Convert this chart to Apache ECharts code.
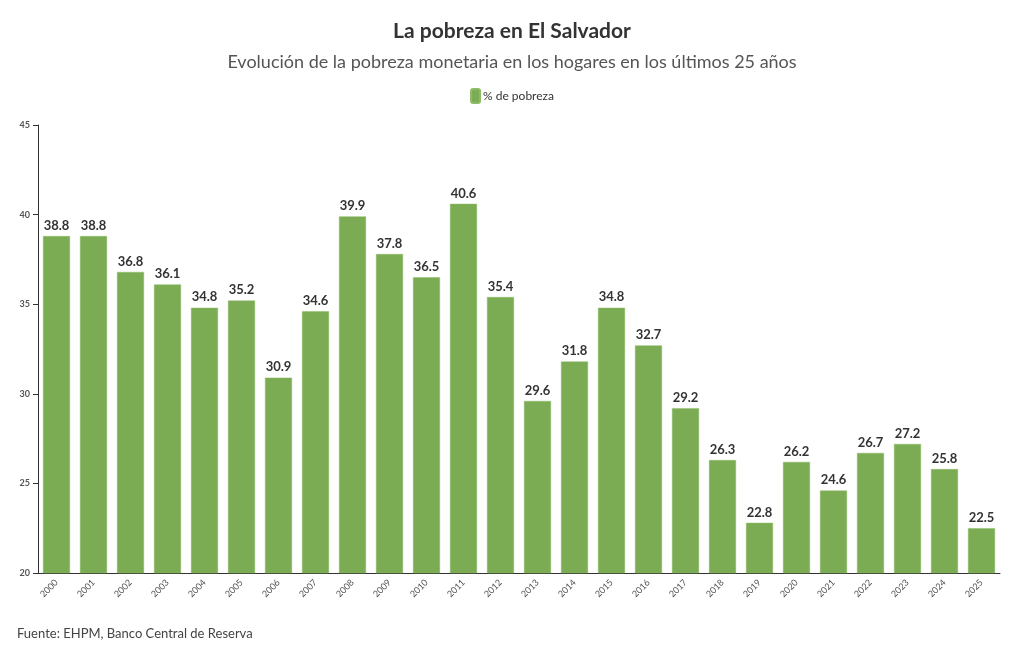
<html>
<head>
    <meta charset='utf-8'/>
    <title>La pobreza en El Salvador</title>
    <style>
        body {
            margin: 0;
            padding: 0;
            background: #fff;
        }

        #chart {
            width: 1024px;
            height: 657px;
        }
    </style>
</head>
<body>
<div id='chart'></div>
<script src="https://cdn.jsdelivr.net/npm/echarts@6/dist/echarts.min.js"></script>
<script type="text/javascript">
    var years = ['2000', '2001', '2002', '2003', '2004', '2005', '2006', '2007', '2008', '2009',
        '2010', '2011', '2012', '2013', '2014', '2015', '2016', '2017', '2018', '2019',
        '2020', '2021', '2022', '2023', '2024', '2025'];
    var pobreza = [38.8, 38.8, 36.8, 36.1, 34.8, 35.2, 30.9, 34.6, 39.9, 37.8,
        36.5, 40.6, 35.4, 29.6, 31.8, 34.8, 32.7, 29.2, 26.3, 22.8,
        26.2, 24.6, 26.7, 27.2, 25.8, 22.5];
    var yTicks = [20, 25, 30, 35, 40, 45];

    var font = 'Lato, "Noto Sans", sans-serif';
    var chart = echarts.init(document.getElementById('chart'));

    var option = {
        animation: false,
        textStyle: {fontFamily: font},
        title: [{
            text: 'La pobreza en El Salvador',
            left: 'center',
            top: 16,
            textStyle: {fontSize: 21, fontWeight: 'bold', color: '#333', fontFamily: font}
        }, {
            text: 'Evolución de la pobreza monetaria en los hogares en los últimos 25 años',
            left: 'center',
            top: 48,
            textStyle: {fontSize: 18, fontWeight: 'normal', color: '#555', fontFamily: font}
        }, {
            text: 'Fuente: EHPM, Banco Central de Reserva',
            left: 12,
            top: 622,
            textStyle: {fontSize: 13, fontWeight: 'normal', color: '#444', fontFamily: font}
        }],
        legend: {
            top: 83,
            left: 'center',
            itemWidth: 9,
            itemHeight: 14,
            itemGap: 4,
            data: ['% de pobreza'],
            textStyle: {fontSize: 12, color: '#333', padding: [0, 0, 0, -2]}
        },
        grid: {
            left: 38,
            right: 24,
            top: 125,
            bottom: 84
        },
        xAxis: {
            type: 'category',
            data: years,
            axisLine: {lineStyle: {color: '#333'}},
            axisTick: {alignWithLabel: true, length: 5, lineStyle: {color: '#333'}},
            axisLabel: {rotate: 45, fontSize: 9, color: '#555', margin: 8}
        },
        yAxis: {
            type: 'value',
            min: yTicks[0],
            max: yTicks[yTicks.length - 1],
            interval: 5,
            splitLine: {show: false},
            axisLine: {show: true, lineStyle: {color: '#333'}},
            axisTick: {show: true, length: 5, lineStyle: {color: '#333'}},
            axisLabel: {fontSize: 9, fontWeight: 'bold', color: '#555', margin: 8}
        },
        series: [{
            name: '% de pobreza',
            type: 'bar',
            data: pobreza,
            barCategoryGap: '27%',
            itemStyle: {color: '#7bab53', borderColor: '#8dbb66', borderWidth: 0.5},
            label: {
                show: true,
                position: 'top',
                distance: 4,
                fontSize: 13,
                fontWeight: 'bold',
                color: '#333',
                formatter: function (p) {
                    return p.value.toFixed(1);
                }
            }
        }]
    };

    chart.setOption(option);
</script>
</body>
</html>
